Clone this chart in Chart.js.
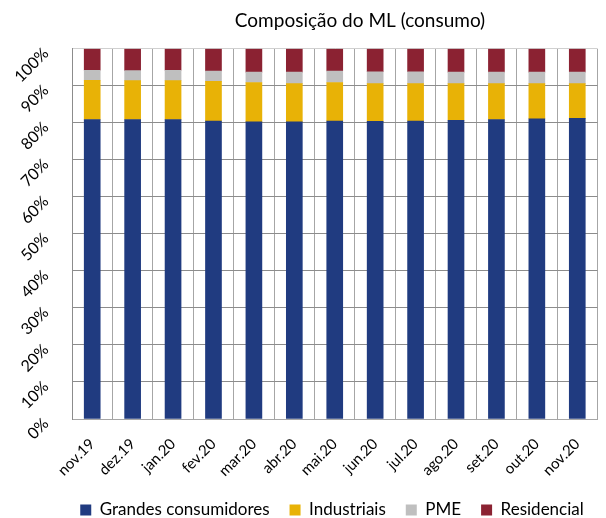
<!DOCTYPE html>
<html><head><meta charset="utf-8">
<script src="https://cdn.jsdelivr.net/npm/chart.js@4/dist/chart.umd.min.js"></script>
<style>html,body{margin:0;padding:0;background:#fff}#wrap{width:606px;height:518px;position:relative}</style>
</head><body><div id="wrap"><canvas id="c"></canvas></div>
<script>
const categories = ['nov.19','dez.19','jan.20','fev.20','mar.20','abr.20','mai.20','jun.20','jul.20','ago.20','set.20','out.20','nov.20'];
const grandes     = [80.9, 80.9, 80.9, 80.5, 80.3, 80.3, 80.5, 80.4, 80.5, 80.7, 80.9, 81.1, 81.2];
const industriais = [10.6, 10.5, 10.5, 10.7, 10.6, 10.3, 10.4, 10.2, 10.1, 9.9, 9.7, 9.5, 9.4];
const pme         = [2.7, 2.7, 2.8, 2.8, 2.8, 3.1, 3.1, 3.2, 3.2, 3.1, 3.1, 3.1, 3.1];
const residencial = [5.8, 5.9, 5.8, 6.0, 6.3, 6.3, 6.0, 6.2, 6.2, 6.3, 6.3, 6.3, 6.3];
const seriesNames = ['Grandes consumidores','Industriais','PME','Residencial'];
const yTickMin = 0, yTickMax = 100, yTickStep = 10;

const FONT = 'Lato, "Open Sans", sans-serif';
const fmtPct = v => v + '%';

const shiftBoxes = {
  id: 'shiftBoxes',
  afterLayout(chart) {
    const lg = chart.legend;
    if (lg) { lg.left += 29; lg.right += 29; lg.top += 10.5; lg.bottom += 10.5; }
    const tt = chart.titleBlock;
    if (tt) { tt.left += 57; tt.right += 57; }
    const x = chart.scales.x;
    if (x) { x.bottom = chart.height; }
  }
};

// y tick labels drawn at exactly 45 degrees from the scale's own ticks
const yTickLabels = {
  id: 'yTickLabels',
  afterDraw(chart) {
    const s = chart.scales.y, ctx = chart.ctx;
    ctx.save();
    ctx.font = '16px ' + FONT;
    ctx.fillStyle = '#000';
    ctx.textAlign = 'right';
    ctx.textBaseline = 'middle';
    s.ticks.forEach((t, i) => {
      const y = s.getPixelForTick(i);
      ctx.save();
      ctx.translate(s.right - 26, y + 2);
      ctx.rotate(-Math.PI / 4);
      ctx.fillText(fmtPct(t.value), 0, 0);
      ctx.restore();
    });
    ctx.restore();
  }
};

new Chart(document.getElementById('c'), {
  type: 'bar',
  data: {
    labels: categories,
    datasets: [
      {label: seriesNames[0], data: grandes, backgroundColor: '#203B80'},
      {label: seriesNames[1], data: industriais, backgroundColor: '#E8B206'},
      {label: seriesNames[2], data: pme, backgroundColor: '#BFBFBF'},
      {label: seriesNames[3], data: residencial, backgroundColor: '#8B2232'}
    ]
  },
  options: {
    responsive: true,
    maintainAspectRatio: false,
    animation: false,
    devicePixelRatio: 1,
    datasets: { bar: { barThickness: 16 } },
    layout: { padding: 0 },
    plugins: {
      title: {
        display: true,
        text: 'Composição do ML (consumo)',
        color: '#000',
        font: { family: FONT, size: 19, weight: 'normal' },
        padding: { top: 9, bottom: 17 }
      },
      legend: {
        position: 'bottom',
        labels: {
          color: '#000',
          font: { family: FONT, size: 17 },
          boxWidth: 11, boxHeight: 11,
          padding: 20
        }
      },
      tooltip: { enabled: false }
    },
    scales: {
      x: {
        stacked: true,
        grid: { offset: true, color: '#a6a6a6', drawTicks: false },
        border: { color: '#a6a6a6' },
        ticks: { color: '#000', font: { family: FONT, size: 15 }, minRotation: 45, maxRotation: 45, padding: 16, autoSkip: false },
        afterFit: s => { s.height = 52; }
      },
      y: {
        stacked: true,
        min: yTickMin, max: yTickMax,
        grid: { color: ctx => (ctx.tick && ctx.tick.value === yTickMax) ? '#d0d0d0' : '#8c8c8c', drawTicks: false },
        border: { color: '#8c8c8c' },
        ticks: { stepSize: yTickStep, display: false, callback: fmtPct },
        afterFit: s => { s.width = 72; }
      }
    }
  },
  plugins: [shiftBoxes, yTickLabels]
});
</script>
</body></html>
